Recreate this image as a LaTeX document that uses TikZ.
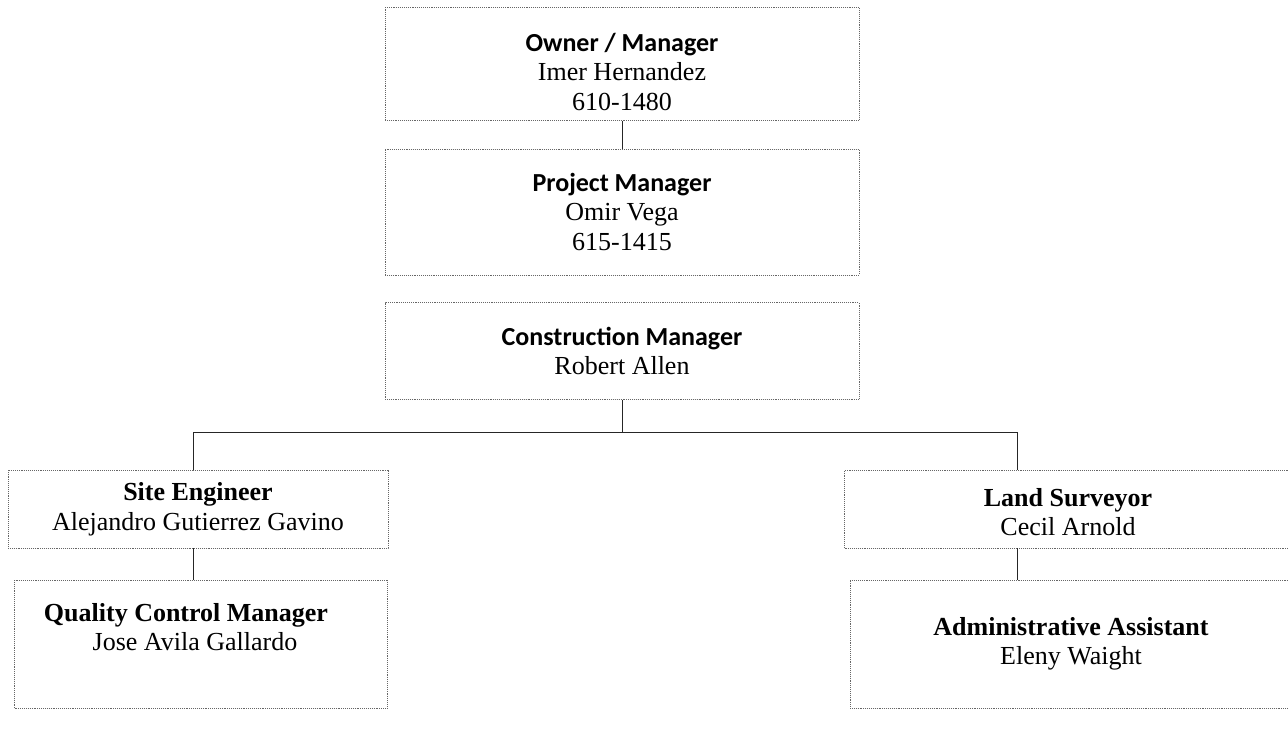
\documentclass[tikz,border=0pt]{standalone}
\usepackage{fontspec}
\setmainfont{Liberation Serif}
\newfontfamily\calfont{Carlito}
\begin{document}
\begin{tikzpicture}[x=1pt,y=-1pt,
  box/.style={draw=black!60, densely dotted, line width=0.9pt, inner sep=0pt,
    align=center, font=\fontsize{26}{29.5}\selectfont},
  conn/.style={draw=black!85, line width=1pt}]
\useasboundingbox (0,0) rectangle (1288,730);
\node[box, minimum width=474pt, minimum height=113pt] (own) at (622,64)
  {\rule{0pt}{34pt}{\calfont\bfseries Owner / Manager}\\Imer Hernandez\\610-1480};
\node[box, minimum width=474pt, minimum height=126pt] (pm) at (622,212)
  {{\calfont\bfseries Project Manager}\\Omir Vega\\615-1415};
\node[box, minimum width=474pt, minimum height=97pt] (cm) at (622,351)
  {{\calfont\bfseries Construction Manager}\\Robert Allen};
\node[box, minimum width=380pt, minimum height=78pt] (se) at (198,509)
  {{\bfseries Site Engineer}\\Alejandro Gutierrez Gavino};
\node[box, minimum width=373pt, minimum height=128pt] (qc) at (201,644)
  {{\bfseries Quality Control Manager}\hspace{30pt}\mbox{}\\Jose Avila Gallardo\hspace{12pt}\rule[-34pt]{0pt}{1pt}};
\node[box, minimum width=447pt, minimum height=78pt] (ls) at (1068,509)
  {\rule{0pt}{24pt}{\bfseries Land Surveyor}\\Cecil Arnold};
\node[box, minimum width=442pt, minimum height=128pt] (aa) at (1071,644)
  {{\bfseries Administrative Assistant}\\Eleny Waight};
\coordinate (j) at (622,432);
\coordinate (bl) at (193,432);
\coordinate (br) at (1017,432);
\draw[conn] (own.south) -- (pm.north);
\draw[conn] (cm.south) -- (j);
\draw[conn] (bl) -- (br);
\draw[conn] (bl) -- (bl |- se.north);
\draw[conn] (br) -- (br |- ls.north);
\draw[conn] (se.south -| bl) -- (qc.north -| bl);
\draw[conn] (ls.south -| br) -- (aa.north -| br);
\end{tikzpicture}
\end{document}
